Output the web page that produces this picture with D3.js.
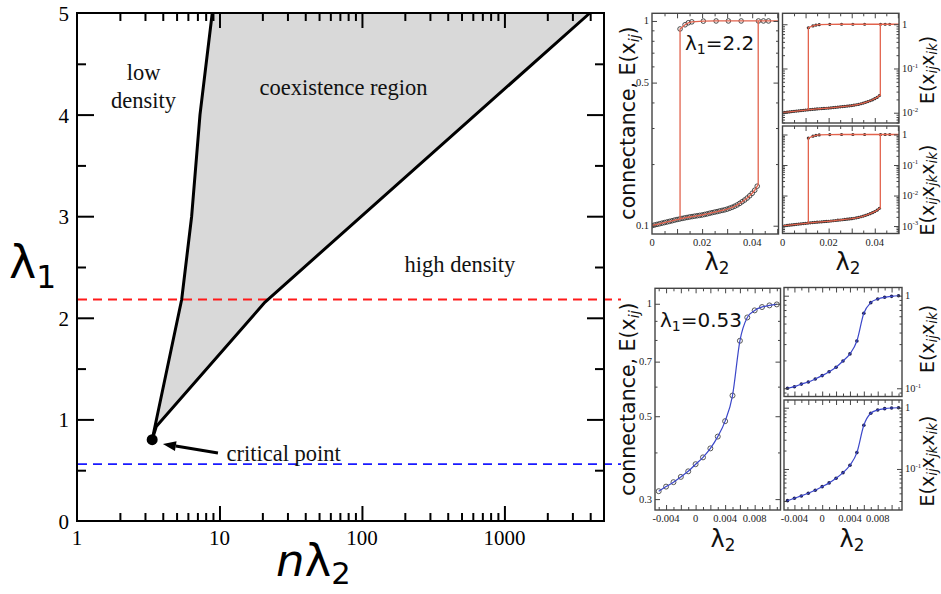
<!DOCTYPE html>
<html><head><meta charset="utf-8">
<script src="https://cdn.jsdelivr.net/npm/d3@7"></script>
<style>html,body{margin:0;padding:0;background:#fff;}svg{display:block;}</style>
</head><body>
<svg id="fig" width="941" height="594" xmlns="http://www.w3.org/2000/svg"></svg>
<script>
// ================= DATA =================
// Main phase diagram
const nLambda2Ticks = [1, 10, 100, 1000];
const lambda1Ticks = [0, 1, 2, 3, 4, 5];
const lambda1MinorTicks = [0.5, 1.5, 2.5, 3.5, 4.5];
const lowEdgeNL2 = [3.37, 5.43, 6.38, 7.3, 8.9];
const lowEdgeL1  = [0.8, 2.18, 3.0, 4.0, 5.0];
const highEdgeNL2 = [3.37, 3.6, 20.9, 3981];
const highEdgeL1  = [0.8, 0.93, 2.155, 5.0];
const criticalNL2 = 3.37, criticalL1 = 0.8;
const sliceL1 = [2.18, 0.56];
const sliceColors = ["#ff1a1a", "#1a1aff"];
const regionNames = ["low", "density", "coexistence region", "high density", "critical point"];
const regionNL2 = [2.93, 2.93, 74.2, 487, 11.2];
const regionL1 = [4.34, 4.065, 4.19, 2.454, 0.594];
const regionAnchor = ["middle", "middle", "middle", "middle", "start"];
const arrowNL2 = [9.76, 4.01];
const arrowL1 = [0.669, 0.758];

// lambda1 = 2.2 : hysteresis panels
const hystL2 = [0,0.001,0.002,0.003,0.004,0.005,0.006,0.007,0.008,0.009,0.010,0.011,0.012,0.013,0.014,0.015,0.016,0.017,0.018,0.019,0.020,0.021,0.022,0.023,0.024,0.025,0.026,0.027,0.028,0.029,0.030,0.031,0.032,0.033,0.034,0.035,0.036,0.037,0.038,0.039,0.040,0.041,0.042];
const connLow = [0.1000,0.1008,0.1015,0.1022,0.1029,0.1036,0.1043,0.1050,0.1057,0.1065,0.1072,0.1078,0.1085,0.1091,0.1097,0.1103,0.1108,0.1113,0.1118,0.1123,0.1128,0.1135,0.1142,0.1150,0.1158,0.1165,0.1172,0.1180,0.1188,0.1195,0.1205,0.1217,0.1230,0.1245,0.1263,0.1285,0.1310,0.1335,0.1365,0.1400,0.1440,0.1490,0.1560];
const pairLow = [0.01000,0.01016,0.01030,0.01044,0.01059,0.01073,0.01088,0.01103,0.01117,0.01134,0.01149,0.01162,0.01177,0.01190,0.01203,0.01217,0.01228,0.01239,0.01250,0.01261,0.01272,0.01288,0.01304,0.01323,0.01341,0.01357,0.01374,0.01392,0.01411,0.01428,0.01452,0.01481,0.01513,0.01550,0.01595,0.01651,0.01716,0.01782,0.01863,0.01960,0.02074,0.02220,0.02434];
const triLow = [0.001000,0.001024,0.001046,0.001067,0.001090,0.001112,0.001135,0.001158,0.001181,0.001208,0.001232,0.001253,0.001277,0.001299,0.001320,0.001342,0.001360,0.001379,0.001397,0.001416,0.001435,0.001462,0.001489,0.001521,0.001553,0.001581,0.001610,0.001643,0.001677,0.001707,0.001750,0.001802,0.001861,0.001930,0.002015,0.002122,0.002248,0.002379,0.002543,0.002744,0.002986,0.003308,0.003796];
const hystUpL2 = [0.0112,0.0132,0.0145,0.0159,0.0205,0.0256,0.0305,0.0356,0.0425,0.0445,0.0465];
const connUp = [0.914,0.958,0.980,0.990,0.998,1,1,1,1,1,1];
const pairUp = [0.835,0.918,0.960,0.980,0.996,1,1,1,1,1,1];
const triUp  = [0.764,0.879,0.941,0.970,0.994,1,1,1,1,1,1];
const jumpDownL2 = 0.0112, jumpUpL2 = 0.0424;

// lambda1 = 0.53 : smooth panels
const sweepL2 = [-0.005,-0.004,-0.003,-0.002,-0.001,0,0.001,0.002,0.003,0.004,0.005,0.006,0.007,0.008,0.009,0.010,0.011];
const connSweep = [0.315,0.324,0.333,0.344,0.356,0.372,0.388,0.410,0.441,0.485,0.568,0.796,0.919,0.960,0.980,0.990,0.996];
const pairSweep = [0.100,0.104,0.111,0.117,0.126,0.137,0.151,0.169,0.197,0.235,0.324,0.645,0.841,0.921,0.962,0.984,0.998];
const triSweep  = [0.0304,0.0333,0.0363,0.0401,0.0449,0.0515,0.0592,0.0705,0.0871,0.115,0.185,0.516,0.810,0.916,0.964,0.988,0.997];

// tick labels
const hystXLabels = [0, 0.02, 0.04];
const hystXMajor = [0.01, 0.02, 0.03, 0.04, 0.05];
const hystXMinor = [0.005, 0.015, 0.025, 0.035, 0.045];
const sweepXLabels = [-0.004, 0, 0.004, 0.008];
const sweepXMajor = [-0.004, -0.002, 0, 0.002, 0.004, 0.006, 0.008, 0.010];
const sweepXMinor = [-0.005, -0.003, -0.001, 0.001, 0.003, 0.005, 0.007, 0.009, 0.011];
const connHystYLabels = [0.1, 0.5, 1];
const pairHystYLabels = [1, 0.1, 0.01];
const triHystYLabels = [1, 0.1, 0.01, 0.001];
const connSweepYLabels = [0.3, 0.5, 0.7, 1];
const pairSweepYLabels = [1, 0.1];
const triSweepYLabels = [1, 0.1];

// ================= DRAWING =================
const svg = d3.select("#fig");
const SERIF = "'Liberation Serif','Times New Roman',serif";
const SANS = "'DejaVu Sans',sans-serif";

function rich(text, segs, size) {
  let shift = 0;
  segs.forEach(s => {
    const t = text.append("tspan").text(s.t);
    let target = 0;
    if (s.sub) target = size * (s.shift || 0.2);
    if (s.sup) target = -size * (s.shift || 0.4);
    if (s.sub || s.sup) t.attr("font-size", size * (s.scale || 0.7));
    if (s.italic) t.attr("font-style", "italic");
    const dy = target - shift;
    if (dy !== 0) t.attr("dy", dy);
    shift = target;
  });
  return text;
}

function ticks(g, axisGen, scale, values, size, transform, color, width) {
  const a = g.append("g").attr("transform", transform)
    .call(axisGen(scale).tickValues(values).tickSize(-size).tickSizeOuter(0).tickFormat(() => ""));
  a.select(".domain").remove();
  a.selectAll(".tick text").remove();
  a.selectAll(".tick line").attr("stroke", color).attr("stroke-width", width);
}

// ---------- main panel ----------
const xM = d3.scaleLog().domain([1, 5000]).range([77, 604]);
const yM = d3.scaleLinear().domain([0, 5]).range([521, 13]);
const main = svg.append("g");
const lowPts = lowEdgeNL2.map((v, i) => [v, lowEdgeL1[i]]);
const highPts = highEdgeNL2.map((v, i) => [v, highEdgeL1[i]]);
const lineM = d3.line().x(d => xM(d[0])).y(d => yM(d[1]));
main.append("path").attr("d", lineM(lowPts.concat(highPts.slice().reverse())) + "Z").attr("fill", "#d9d9d9");

sliceL1.forEach((v, i) => main.append("line")
  .attr("x1", xM(1) + 1).attr("x2", 621).attr("y1", yM(v)).attr("y2", yM(v))
  .attr("stroke", sliceColors[i]).attr("stroke-width", 1.8).attr("stroke-dasharray", "9,6"));

[lowPts, highPts].forEach(p => main.append("path").attr("d", lineM(p)).attr("fill", "none")
  .attr("stroke", "#000").attr("stroke-width", 3).attr("stroke-linejoin", "round"));
main.append("circle").attr("cx", xM(criticalNL2)).attr("cy", yM(criticalL1)).attr("r", 5.5).attr("fill", "#000");

// arrow
{
  const x0 = xM(arrowNL2[0]), y0 = yM(arrowL1[0]), x1 = xM(arrowNL2[1]), y1 = yM(arrowL1[1]);
  const ang = Math.atan2(y1 - y0, x1 - x0), L = 13, Wd = 5;
  const bx = x1 - L * Math.cos(ang), by = y1 - L * Math.sin(ang);
  main.append("line").attr("x1", x0).attr("y1", y0).attr("x2", bx).attr("y2", by).attr("stroke", "#000").attr("stroke-width", 3);
  const px = -Math.sin(ang) * Wd, py = Math.cos(ang) * Wd;
  main.append("path").attr("d", `M${x1},${y1}L${bx + px},${by + py}L${bx - px},${by - py}Z`).attr("fill", "#000");
}

main.append("rect").attr("x", 77).attr("y", 13).attr("width", 527).attr("height", 508)
  .attr("fill", "none").attr("stroke", "#000").attr("stroke-width", 2);

const xMinorMain = xM.ticks().filter(v => !nLambda2Ticks.includes(v) && v < 5000 && v > 1);
ticks(main, d3.axisBottom, xM, nLambda2Ticks.filter(v => v > 1), 15, "translate(0,521)", "#000", 2);
ticks(main, d3.axisBottom, xM, xMinorMain, 8, "translate(0,521)", "#000", 2);
ticks(main, d3.axisTop, xM, nLambda2Ticks.filter(v => v > 1), 15, "translate(0,13)", "#000", 2);
ticks(main, d3.axisTop, xM, xMinorMain, 8, "translate(0,13)", "#000", 2);
ticks(main, d3.axisLeft, yM, lambda1Ticks.filter(v => v > 0 && v < 5), 17, "translate(77,0)", "#000", 2);
ticks(main, d3.axisLeft, yM, lambda1MinorTicks, 9, "translate(77,0)", "#000", 2);
ticks(main, d3.axisRight, yM, lambda1Ticks.filter(v => v > 0 && v < 5), 17, "translate(604,0)", "#000", 2);
ticks(main, d3.axisRight, yM, lambda1MinorTicks, 9, "translate(604,0)", "#000", 2);

nLambda2Ticks.forEach(v => main.append("text").attr("x", xM(v)).attr("y", 545)
  .attr("text-anchor", "middle").attr("font-family", SERIF).attr("font-size", 21).text(v));
lambda1Ticks.forEach(v => main.append("text").attr("x", 69).attr("y", yM(v) + 8)
  .attr("text-anchor", "end").attr("font-family", SERIF).attr("font-size", 21).text(v));

regionNames.forEach((s, i) => main.append("text").attr("x", xM(regionNL2[i])).attr("y", yM(regionL1[i]))
  .attr("text-anchor", regionAnchor[i]).attr("font-family", SERIF).attr("font-size", 22.5).attr("fill", "#111").text(s));

rich(main.append("text").attr("x", 9).attr("y", 278).attr("font-family", SANS).attr("font-size", 46),
  [{t: "λ"}, {t: "1", sub: true, scale: 0.68, shift: 0.22}], 46);
rich(main.append("text").attr("x", 276).attr("y", 576).attr("font-family", SANS).attr("font-size", 45),
  [{t: "n", italic: true}, {t: "λ"}, {t: "2", sub: true, scale: 0.68, shift: 0.18}], 45);

// ---------- small panels ----------
let clipId = 0;
function makePanel(c) {
  const x = d3.scaleLinear().domain(c.xd).range(c.x);
  const y = d3.scaleLog().domain(c.yd).range([c.y[1], c.y[0]]);
  const g = svg.append("g");
  const id = "clip" + (clipId++);
  svg.append("clipPath").attr("id", id).append("rect")
    .attr("x", c.x[0]).attr("y", c.y[0]).attr("width", c.x[1] - c.x[0]).attr("height", c.y[1] - c.y[0]);
  const inner = g.append("g").attr("clip-path", `url(#${id})`);
  return {x, y, g, inner, c};
}
function frameAndTicks(P, xMajor, xMinor, yMajor) {
  const {x, y, g, c} = P;
  const col = "#444";
  const yMinor = y.ticks().filter(v => !yMajor.some(m => Math.abs(m - v) / m < 1e-6) && v > c.yd[0] && v < c.yd[1]);
  const yMaj = yMajor.filter(v => v > c.yd[0] && v < c.yd[1]);
  ticks(g, d3.axisBottom, x, xMajor, 5, `translate(0,${c.y[1]})`, col, 1);
  ticks(g, d3.axisBottom, x, xMinor, 3, `translate(0,${c.y[1]})`, col, 1);
  ticks(g, d3.axisTop, x, xMajor, 5, `translate(0,${c.y[0]})`, col, 1);
  ticks(g, d3.axisTop, x, xMinor, 3, `translate(0,${c.y[0]})`, col, 1);
  ticks(g, d3.axisLeft, y, yMaj, 5, `translate(${c.x[0]},0)`, col, 1);
  ticks(g, d3.axisLeft, y, yMinor, 2.5, `translate(${c.x[0]},0)`, col, 1);
  ticks(g, d3.axisRight, y, yMaj, 5, `translate(${c.x[1]},0)`, col, 1);
  ticks(g, d3.axisRight, y, yMinor, 2.5, `translate(${c.x[1]},0)`, col, 1);
  g.append("rect").attr("x", c.x[0]).attr("y", c.y[0]).attr("width", c.x[1] - c.x[0]).attr("height", c.y[1] - c.y[0])
    .attr("fill", "none").attr("stroke", col).attr("stroke-width", 1.4);
}
function xLabels(P, vals, fmt) {
  vals.forEach(v => P.g.append("text").attr("x", P.x(v)).attr("y", P.c.y[1] + 12)
    .attr("text-anchor", "middle").attr("font-family", SERIF).attr("font-size", 10.5).attr("fill", "#222").text(fmt(v)));
}
function yLabelsLeft(P, vals) {
  vals.forEach(v => P.g.append("text").attr("x", P.c.x[0] - 3).attr("y", P.y(v) + 3.5)
    .attr("text-anchor", "end").attr("font-family", SERIF).attr("font-size", 10.5).attr("fill", "#222").text(v));
}
function yLabelsRightPow(P, vals) {
  vals.forEach(v => {
    const t = P.g.append("text").attr("x", P.c.x[1] + 3).attr("y", P.y(v) + 3.5)
      .attr("font-family", SERIF).attr("font-size", 10.5).attr("fill", "#222");
    const e = Math.round(Math.log10(v));
    if (e === 0) t.text("1");
    else rich(t, [{t: "10"}, {t: String(e), sup: true, scale: 0.65, shift: 0.4}], 10.5);
  });
}
const fmtHyst = v => v === 0 ? "0" : String(v);
const fmtSweep = v => v === 0 ? "0" : String(v);

const hystX = [0, 0.0505], sweepX = [-0.0055, 0.0115];
const P1 = makePanel({x: [652, 778.5], y: [13.3, 234], xd: hystX, yd: [0.0911, 1.09]});
const P2 = makePanel({x: [782.5, 899], y: [13.3, 123], xd: hystX, yd: [0.00585, 1.77]});
const P3 = makePanel({x: [782.5, 899], y: [126, 233.5], xd: hystX, yd: [0.00057, 1.9]});
const P4 = makePanel({x: [655, 780.5], y: [288.3, 510], xd: sweepX, yd: [0.2805, 1.10]});
const P5 = makePanel({x: [784, 902], y: [287.5, 396.5], xd: sweepX, yd: [0.0815, 1.226]});
const P6 = makePanel({x: [784, 902], y: [400, 510], xd: sweepX, yd: [0.0214, 1.335]});

const RED = "#e2634d", BLUE = "#3b47c9";
function hystPanel(P, low, up, openMarkers) {
  const {x, y, inner} = P;
  const ln = d3.line().x(d => x(d[0])).y(d => y(d[1]));
  const lowPts = hystL2.map((v, i) => [v, low[i]]);
  const upPts = hystUpL2.map((v, i) => [v, up[i]]);
  const all = lowPts.concat(upPts);
  if (openMarkers) {
    inner.selectAll(null).data(all).join("circle").attr("cx", d => x(d[0])).attr("cy", d => y(d[1])).attr("r", 2.3)
      .attr("fill", "none").attr("stroke", "#333").attr("stroke-width", 0.9);
  } else {
    inner.selectAll(null).data(all).join("circle").attr("cx", d => x(d[0])).attr("cy", d => y(d[1])).attr("r", 1.6)
      .attr("fill", "#2a2a2a");
  }
  const interp = d3.scaleLinear().domain(hystL2).range(low);
  const lowLine = lowPts.concat([[jumpUpL2, low[low.length - 1] * 1.02], [jumpUpL2, 1]]);
  const upLine = [[jumpDownL2, interp(jumpDownL2)]].concat(upPts, [[x.domain()[1], 1]]);
  inner.append("path").attr("d", ln(lowLine)).attr("fill", "none").attr("stroke", RED).attr("stroke-width", 1.3);
  inner.append("path").attr("d", ln(upLine)).attr("fill", "none").attr("stroke", RED).attr("stroke-width", 1.3);
}
hystPanel(P1, connLow, connUp, true);
hystPanel(P2, pairLow, pairUp, false);
hystPanel(P3, triLow, triUp, false);

function sweepPanel(P, vals, openMarkers) {
  const {x, y, inner} = P;
  const pts = sweepL2.map((v, i) => [v, vals[i]]);
  if (openMarkers) {
    inner.selectAll(null).data(pts).join("circle").attr("cx", d => x(d[0])).attr("cy", d => y(d[1])).attr("r", 2.5)
      .attr("fill", "none").attr("stroke", "#444").attr("stroke-width", 0.9);
  } else {
    inner.selectAll(null).data(pts).join("circle").attr("cx", d => x(d[0])).attr("cy", d => y(d[1])).attr("r", 1.8)
      .attr("fill", "#1f2150");
  }
  inner.append("path").attr("d", d3.line().x(d => x(d[0])).y(d => y(d[1])).curve(d3.curveMonotoneX)(pts))
    .attr("fill", "none").attr("stroke", BLUE).attr("stroke-width", 1.2);
}
sweepPanel(P4, connSweep, true);
sweepPanel(P5, pairSweep, false);
sweepPanel(P6, triSweep, false);

frameAndTicks(P1, hystXMajor, hystXMinor, connHystYLabels);
frameAndTicks(P2, hystXMajor, hystXMinor, pairHystYLabels);
frameAndTicks(P3, hystXMajor, hystXMinor, triHystYLabels);
frameAndTicks(P4, sweepXMajor, sweepXMinor, connSweepYLabels);
frameAndTicks(P5, sweepXMajor, sweepXMinor, pairSweepYLabels);
frameAndTicks(P6, sweepXMajor, sweepXMinor, triSweepYLabels);

xLabels(P1, hystXLabels, fmtHyst);
xLabels(P3, hystXLabels, fmtHyst);
xLabels(P4, sweepXLabels, fmtSweep);
xLabels(P6, sweepXLabels, fmtSweep);
yLabelsLeft(P1, connHystYLabels);
yLabelsLeft(P4, connSweepYLabels);
yLabelsRightPow(P2, pairHystYLabels);
yLabelsRightPow(P3, triHystYLabels);
yLabelsRightPow(P5, pairSweepYLabels);
yLabelsRightPow(P6, triSweepYLabels);

// panel text
function sansText(x, y, segs, size, anchor, rotate) {
  const t = svg.append("text").attr("font-family", SANS).attr("font-size", size).attr("fill", "#111")
    .attr("text-anchor", anchor || "start");
  if (rotate) t.attr("transform", `translate(${x},${y}) rotate(-90)`);
  else t.attr("x", x).attr("y", y);
  return rich(t, segs, size);
}
sansText(685, 50, [{t: "λ"}, {t: "1", sub: true}, {t: "=2.2"}], 20);
sansText(660, 327, [{t: "λ"}, {t: "1", sub: true}, {t: "=0.53"}], 20);
[[717, 270], [848, 270], [723, 547], [852, 547]].forEach(p => sansText(p[0], p[1], [{t: "λ"}, {t: "2", sub: true, shift: 0.17}], 24, "middle"));
const connSegs = [{t: "connectance, E(x"}, {t: "ij", sub: true, italic: true}, {t: ")"}];
sansText(635, 123, connSegs, 20.5, "middle", true);
sansText(635, 399, connSegs, 20.5, "middle", true);
const pairSegs = [{t: "E(x"}, {t: "ij", sub: true, italic: true, shift: 0.15}, {t: "x"}, {t: "ik", sub: true, italic: true, shift: 0.15}, {t: ")"}];
const triSegs = [{t: "E(x"}, {t: "ij", sub: true, italic: true, shift: 0.15}, {t: "x"}, {t: "jk", sub: true, italic: true, shift: 0.15}, {t: "x"}, {t: "ik", sub: true, italic: true, shift: 0.15}, {t: ")"}];
sansText(934, 70, pairSegs, 19, "middle", true);
sansText(934, 190, triSegs, 19, "middle", true);
sansText(934, 339, pairSegs, 19, "middle", true);
sansText(934, 461, triSegs, 19, "middle", true);
</script>
</body></html>
